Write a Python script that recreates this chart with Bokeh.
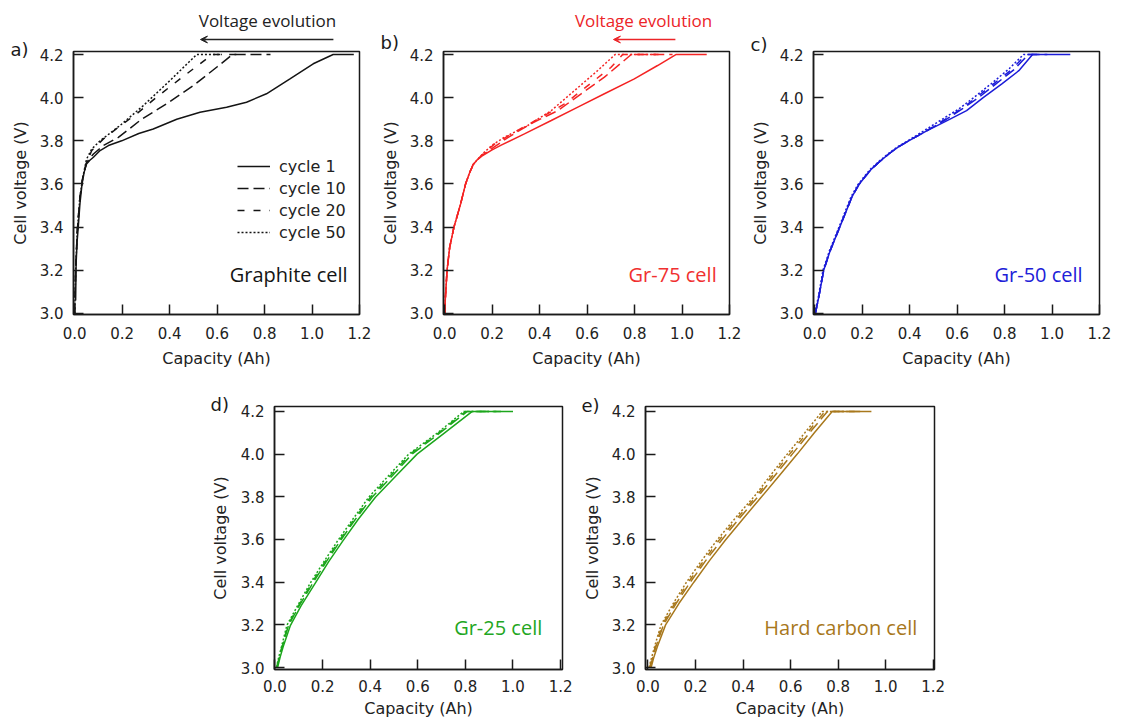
import math
from bokeh.plotting import figure
from bokeh.layouts import column, row
from bokeh.models import (Range1d, FixedTicker, Label, Arrow, VeeHead, Legend,
                          LegendItem, Spacer, NumeralTickFormatter)
from bokeh.embed import file_html
from bokeh.resources import INLINE

# ---------------- data (capacity in Ah, voltage in V) ----------------
cycles = ["cycle 1", "cycle 10", "cycle 20", "cycle 50"]
x_ticks = [0.0, 0.2, 0.4, 0.6, 0.8, 1.0, 1.2]
y_ticks = [3.0, 3.2, 3.4, 3.6, 3.8, 4.0, 4.2]
panel_tags = ["a)", "b)", "c)", "d)", "e)"]
cell_names = ["Graphite cell", "Gr-75 cell", "Gr-50 cell", "Gr-25 cell", "Hard carbon cell"]

# a) Graphite cell
a_cap_1 = [0.004, 0.006, 0.01, 0.015, 0.022, 0.031, 0.04, 0.05, 0.064, 0.079, 0.107, 0.142, 0.198, 0.27, 0.331, 0.43, 0.528, 0.64, 0.724, 0.808, 0.907, 1.005, 1.089, 1.176]
a_v_1 = [3.06, 3.23, 3.33, 3.40, 3.507, 3.60, 3.655, 3.693, 3.71, 3.724, 3.755, 3.778, 3.80, 3.834, 3.855, 3.90, 3.932, 3.956, 3.979, 4.018, 4.087, 4.157, 4.20, 4.20]
a_cap_10 = [0.0, 0.004, 0.011, 0.022, 0.034, 0.05, 0.079, 0.121, 0.184, 0.282, 0.387, 0.5, 0.598, 0.665, 0.825]
a_v_10 = [3.0, 3.2, 3.384, 3.538, 3.63, 3.70, 3.739, 3.778, 3.816, 3.90, 3.971, 4.056, 4.141, 4.2, 4.2]
a_cap_20 = [0.0, 0.004, 0.011, 0.022, 0.034, 0.05, 0.072, 0.121, 0.184, 0.261, 0.345, 0.444, 0.528, 0.58, 0.72]
a_v_20 = [3.0, 3.2, 3.384, 3.538, 3.63, 3.70, 3.755, 3.809, 3.863, 3.925, 4.002, 4.087, 4.157, 4.2, 4.2]
a_cap_50 = [0.0, 0.004, 0.011, 0.022, 0.034, 0.05, 0.072, 0.107, 0.191, 0.289, 0.401, 0.514, 0.62]
a_v_50 = [3.0, 3.2, 3.384, 3.538, 3.63, 3.715, 3.762, 3.80, 3.871, 3.963, 4.079, 4.2, 4.2]

# b) Gr-75 cell
b_cap_1 = [0.0, 0.003, 0.01, 0.021, 0.039, 0.067, 0.088, 0.105, 0.12, 0.137, 0.16, 0.2, 0.238, 0.336, 0.449, 0.561, 0.673, 0.799, 0.897, 0.974, 1.104]
b_v_1 = [3.0, 3.074, 3.2, 3.306, 3.4, 3.507, 3.6, 3.652, 3.69, 3.712, 3.732, 3.758, 3.78, 3.832, 3.894, 3.956, 4.018, 4.087, 4.149, 4.2, 4.2]
b_cap_10 = [0.0, 0.003, 0.01, 0.021, 0.039, 0.067, 0.088, 0.105, 0.12, 0.137, 0.16, 0.2, 0.266, 0.364, 0.477, 0.575, 0.673, 0.786, 0.96]
b_v_10 = [3.0, 3.074, 3.2, 3.306, 3.4, 3.507, 3.6, 3.652, 3.69, 3.712, 3.735, 3.765, 3.815, 3.88, 3.94, 4.018, 4.095, 4.2, 4.2]
b_cap_20 = [0.0, 0.003, 0.01, 0.021, 0.039, 0.067, 0.088, 0.105, 0.12, 0.137, 0.16, 0.21, 0.294, 0.392, 0.505, 0.603, 0.70, 0.75, 0.93]
b_v_20 = [3.0, 3.074, 3.2, 3.306, 3.4, 3.507, 3.6, 3.652, 3.69, 3.712, 3.738, 3.785, 3.84, 3.90, 3.971, 4.056, 4.14, 4.2, 4.2]
b_cap_50 = [0.0, 0.003, 0.01, 0.021, 0.039, 0.067, 0.088, 0.105, 0.12, 0.137, 0.16, 0.2, 0.252, 0.35, 0.449, 0.547, 0.645, 0.718, 0.9]
b_v_50 = [3.0, 3.074, 3.2, 3.306, 3.4, 3.507, 3.6, 3.652, 3.69, 3.712, 3.74, 3.78, 3.817, 3.871, 3.94, 4.033, 4.126, 4.2, 4.2]

# c) Gr-50 cell
c_cap_1 = [0.003, 0.017, 0.038, 0.065, 0.10, 0.157, 0.185, 0.213, 0.24, 0.27, 0.312, 0.35, 0.396, 0.47, 0.56, 0.64, 0.71, 0.79, 0.86, 0.918, 1.077]
c_v_1 = [3.0, 3.074, 3.2, 3.29, 3.385, 3.54, 3.595, 3.635, 3.67, 3.70, 3.739, 3.77, 3.80, 3.845, 3.895, 3.94, 4.0, 4.065, 4.125, 4.2, 4.2]
c_cap_10 = [0.003, 0.017, 0.038, 0.065, 0.10, 0.157, 0.185, 0.213, 0.24, 0.27, 0.312, 0.35, 0.396, 0.47, 0.555, 0.625, 0.69, 0.765, 0.84, 0.90, 0.98]
c_v_10 = [3.0, 3.074, 3.2, 3.29, 3.385, 3.54, 3.595, 3.635, 3.67, 3.70, 3.739, 3.77, 3.80, 3.845, 3.90, 3.95, 4.0, 4.065, 4.13, 4.2, 4.2]
c_cap_20 = [0.003, 0.017, 0.038, 0.065, 0.10, 0.157, 0.185, 0.213, 0.24, 0.27, 0.312, 0.35, 0.396, 0.47, 0.55, 0.62, 0.68, 0.755, 0.83, 0.89, 0.96]
c_v_20 = [3.0, 3.074, 3.2, 3.29, 3.385, 3.54, 3.595, 3.635, 3.67, 3.70, 3.739, 3.77, 3.80, 3.845, 3.90, 3.95, 4.0, 4.065, 4.13, 4.2, 4.2]
c_cap_50 = [0.0, 0.015, 0.035, 0.062, 0.097, 0.153, 0.181, 0.209, 0.236, 0.266, 0.308, 0.346, 0.392, 0.465, 0.545, 0.61, 0.67, 0.75, 0.82, 0.88, 0.94]
c_v_50 = [3.0, 3.074, 3.2, 3.29, 3.385, 3.54, 3.595, 3.635, 3.67, 3.70, 3.739, 3.77, 3.80, 3.85, 3.905, 3.95, 4.0, 4.07, 4.135, 4.2, 4.2]

# d) Gr-25 cell
d_v = [3.0, 3.05, 3.1, 3.198, 3.29, 3.397, 3.495, 3.595, 3.695, 3.798, 3.90, 4.0, 4.097, 4.2, 4.2]
d_cap_1 = [0.011, 0.022, 0.035, 0.065, 0.11, 0.17, 0.225, 0.286, 0.35, 0.422, 0.51, 0.597, 0.71, 0.829, 1.0]
d_cap_10 = [0.008, 0.019, 0.031, 0.057, 0.102, 0.16, 0.215, 0.275, 0.338, 0.408, 0.494, 0.576, 0.69, 0.808, 0.95]
d_cap_20 = [0.007, 0.018, 0.03, 0.054, 0.099, 0.155, 0.21, 0.27, 0.333, 0.401, 0.486, 0.568, 0.685, 0.801, 0.93]
d_cap_50 = [0.006, 0.016, 0.028, 0.05, 0.095, 0.149, 0.205, 0.264, 0.327, 0.394, 0.478, 0.562, 0.68, 0.794, 0.9]

# e) Hard carbon cell
e_v = [3.0, 3.05, 3.1, 3.2, 3.3, 3.4, 3.5, 3.598, 3.70, 3.80, 3.90, 4.0, 4.1, 4.2, 4.2]
e_cap_1 = [0.013, 0.025, 0.04, 0.074, 0.13, 0.193, 0.258, 0.326, 0.402, 0.478, 0.553, 0.628, 0.70, 0.775, 0.94]
e_cap_10 = [0.009, 0.021, 0.034, 0.065, 0.118, 0.178, 0.242, 0.31, 0.385, 0.462, 0.534, 0.607, 0.68, 0.755, 0.9]
e_cap_20 = [0.007, 0.019, 0.031, 0.06, 0.112, 0.17, 0.234, 0.30, 0.376, 0.454, 0.524, 0.596, 0.67, 0.745, 0.88]
e_cap_50 = [0.004, 0.016, 0.028, 0.055, 0.106, 0.162, 0.225, 0.291, 0.367, 0.446, 0.515, 0.586, 0.66, 0.733, 0.85]

# ---------------- styling ----------------
DASHES = ["solid", "11 5", "7 9", "2 2"]
TICK_FONT = "DejaVu Sans"
TEXT_FONT = "Open Sans"
INK = "#1a1a1a"

BL, BR_TOP, BR_BOT = 40, 19, 18
FRAME_H = 263
HEAD_H = 45
TOP_H = 388
BOT_H = 332

TOP_X = (-0.005, 1.2)
TOP_Y = (2.995, 4.214)
BOT_Y = (2.991, 4.223)
D_X = (-0.002, 1.208)
E_X = (-0.0105, 1.2055)


def blank(width, height):
    f = figure(width=width, height=height, output_backend="svg", toolbar_location=None,
               x_axis_type=None, y_axis_type=None, min_border=0,
               x_range=Range1d(0, width), y_range=Range1d(height, 0))
    f.grid.visible = False
    f.outline_line_color = None
    f.background_fill_color = "white"
    f.border_fill_color = "white"
    return f


def make_panel(fw, height, bt, bb, br, xr, yr, xstand, xlstand):
    p = figure(width=BL + fw + br, height=height, output_backend="svg", toolbar_location=None,
               x_range=Range1d(*xr), y_range=Range1d(*yr),
               min_border_left=BL, min_border_right=br, min_border_top=bt, min_border_bottom=bb)
    p.grid.visible = False
    p.outline_line_color = INK
    p.outline_line_width = 1.5
    p.outline_line_alpha = 1.0
    p.background_fill_color = "white"
    p.border_fill_color = "white"
    p.xaxis.ticker = FixedTicker(ticks=x_ticks)
    p.yaxis.ticker = FixedTicker(ticks=y_ticks)
    p.xaxis.formatter = NumeralTickFormatter(format="0.0")
    p.yaxis.formatter = NumeralTickFormatter(format="0.0")
    p.xaxis.axis_label = "Capacity (Ah)"
    for ax in (p.xaxis[0], p.yaxis[0]):
        ax.major_tick_in = 10
        ax.major_tick_out = 0
        ax.minor_tick_line_color = None
        ax.major_tick_line_color = INK
        ax.major_tick_line_width = 1.5
        ax.axis_line_color = INK
        ax.axis_line_width = 1.5
        ax.major_label_text_font = TICK_FONT
        ax.major_label_text_font_size = "15px"
        ax.major_label_text_color = "#222222"
        ax.axis_label_text_font = TICK_FONT
        ax.axis_label_text_font_size = "16px"
        ax.axis_label_text_font_style = "normal"
        ax.axis_label_text_color = "#222222"
    p.yaxis.major_label_standoff = 10
    p.xaxis.major_label_standoff = xstand
    p.xaxis.axis_label_standoff = xlstand
    return p


def strip(width, height, tag, tag_x, tag_y, ylab_x, ylab_y):
    s = blank(width, height)
    s.add_layout(Label(x=tag_x, y=tag_y, text=tag, text_color=INK, text_font=TICK_FONT,
                       text_font_size="18px", text_align="left", text_baseline="middle"))
    s.add_layout(Label(x=ylab_x, y=ylab_y, text="Cell voltage (V)", text_color="#222222",
                       text_font=TICK_FONT, text_font_size="16px", angle=math.pi / 2,
                       text_align="center", text_baseline="middle"))
    return s


def header(xr, fw, br, xc, x0, x1, color):
    # frame of the header is aligned with the panel frame below it (same x range)
    h = figure(width=BL + fw + br, height=HEAD_H, output_backend="svg", toolbar_location=None,
               x_axis_type=None, y_axis_type=None, min_border=0,
               x_range=Range1d(*xr), y_range=Range1d(HEAD_H, 0))
    h.grid.visible = False
    h.outline_line_color = None
    h.background_fill_color = "white"
    h.border_fill_color = "white"
    h.add_layout(Label(x=xc, y=20, text="Voltage evolution", text_color=color, text_font=TEXT_FONT,
                       text_font_size="17px", text_align="center", text_baseline="middle"))
    h.add_layout(Arrow(x_start=x0, y_start=39, x_end=x1, y_end=39, line_color=color, line_width=1.5,
                       end=VeeHead(size=7, line_color=color, fill_color=color, line_width=1)))
    return h


def add_curves(p, caps, volts, color):
    return [p.line(cap, v, line_color=color, line_width=1.5, line_dash=dash)
            for cap, v, dash in zip(caps, volts, DASHES)]


def add_name(p, x, y, text, color):
    p.add_layout(Label(x=x, y=y, text=text, text_color=color, text_font=TEXT_FONT,
                       text_font_size="20px", text_align="right", text_baseline="middle"))


top_bt = 51 - HEAD_H
top_bb = TOP_H - HEAD_H - top_bt - FRAME_H
bot_bt = 18
bot_bb = BOT_H - bot_bt - FRAME_H

# a) Graphite
pa = make_panel(286, TOP_H - HEAD_H, top_bt, top_bb, BR_TOP, TOP_X, TOP_Y, 12, 7)
ra = add_curves(pa, [a_cap_1, a_cap_10, a_cap_20, a_cap_50], [a_v_1, a_v_10, a_v_20, a_v_50], "#141414")
legend = Legend(items=[LegendItem(label=c, renderers=[r]) for c, r in zip(cycles, ra)],
                location=(164, 72), padding=0, margin=0, spacing=2, glyph_width=33,
                glyph_height=20, label_height=20, label_standoff=9,
                label_text_font=TICK_FONT, label_text_font_size="16px",
                label_text_color="#222222", border_line_alpha=0, background_fill_alpha=0)
pa.add_layout(legend)
add_name(pa, 1.15, 3.18, cell_names[0], "#141414")
ha = header(TOP_X, 286, BR_TOP, 0.812, 1.09, 0.53, "#222222")
sa = strip(33, TOP_H, panel_tags[0], 10, 48.5, 19.5, 182.5)

# b) Gr-75
pb = make_panel(286, TOP_H - HEAD_H, top_bt, top_bb, BR_TOP, TOP_X, TOP_Y, 12, 7)
add_curves(pb, [b_cap_1, b_cap_10, b_cap_20, b_cap_50], [b_v_1, b_v_10, b_v_20, b_v_50], "#f42424")
add_name(pb, 1.146, 3.18, cell_names[1], "#f03030")
hb = header(TOP_X, 286, BR_TOP, 0.838, 0.972, 0.711, "#ec2428")
sb = strip(25, TOP_H, panel_tags[1], 2, 41.5, 12, 182.5)

# c) Gr-50
pc = make_panel(286, TOP_H - HEAD_H, top_bt, top_bb, BR_TOP, TOP_X, TOP_Y, 12, 7)
add_curves(pc, [c_cap_1, c_cap_10, c_cap_20, c_cap_50], [c_v_1, c_v_10, c_v_20, c_v_50], "#1c1cd8")
add_name(pc, 1.129, 3.18, cell_names[2], "#2020d8")
sc = strip(25, TOP_H, panel_tags[2], 2, 44, 12, 182.5)

# d) Gr-25
pd_ = make_panel(288, BOT_H, bot_bt, bot_bb, BR_BOT, D_X, BOT_Y, 10, 4)
add_curves(pd_, [d_cap_1, d_cap_10, d_cap_20, d_cap_50], [d_v] * 4, "#1ca61c")
add_name(pd_, 1.123, 3.19, cell_names[3], "#22a622")
sd = strip(27, BOT_H, panel_tags[3], 3, 16, 13, 149.5)

# e) Hard carbon
pe = make_panel(289, BOT_H, bot_bt, bot_bb, BR_BOT, E_X, BOT_Y, 10, 4)
add_curves(pe, [e_cap_1, e_cap_10, e_cap_20, e_cap_50], [e_v] * 4, "#a8781c")
add_name(pe, 1.133, 3.19, cell_names[4], "#a8781c")
se = strip(25, BOT_H, panel_tags[4], 1, 17, 12, 149.5)

top_row = row(sa, column(ha, pa), sb, column(hb, pb), sc,
              column(Spacer(width=BL + 286 + BR_TOP, height=HEAD_H), pc))
bottom_row = row(Spacer(width=207, height=BOT_H), column(sd), pd_, column(se), pe)
layout = column(top_row, bottom_row)

open("out.html", "w").write(file_html(layout, INLINE))
